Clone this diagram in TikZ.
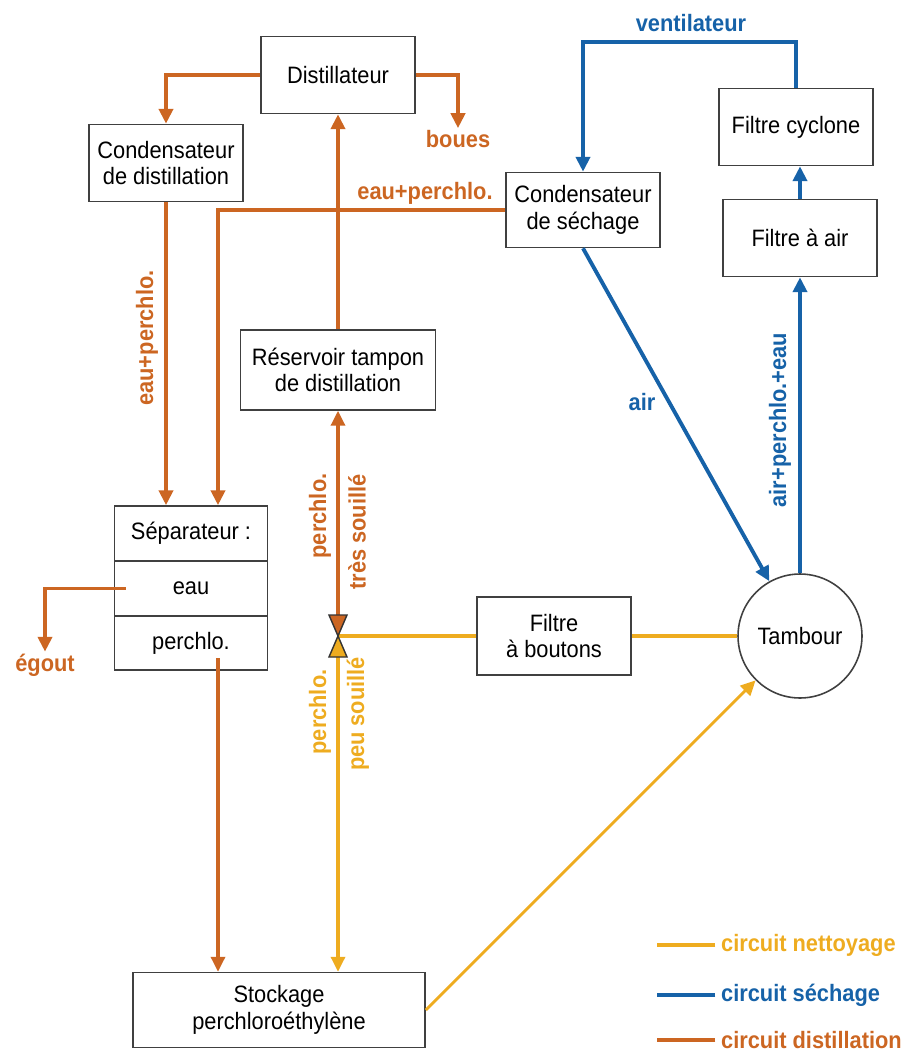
\documentclass[tikz,border=0pt]{standalone}
\usepackage{fontspec}
\setmainfont{Liberation Sans}[FakeStretch=0.92]
\usetikzlibrary{arrows.meta}
\definecolor{distil}{RGB}{204,102,34}
\definecolor{nettoy}{RGB}{238,172,32}
\definecolor{sechage}{RGB}{22,98,168}
\begin{document}
\begin{tikzpicture}[x=0.02cm,y=-0.02cm,
    >={Triangle[length=8.5pt,width=8pt]},
    font=\fontsize{13.5}{15}\selectfont,
    box/.style={draw=black!75,line width=0.9pt,align=center,fill=white,
        minimum width=3.08cm,minimum height=1.54cm,inner sep=1pt},
    dst/.style={draw=distil,line width=2.2pt},
    sch/.style={draw=sechage,line width=2.2pt},
    ntt/.style={draw=nettoy,line width=1.8pt},
    lab/.style={font=\fontsize{13.5}{15}\selectfont\bfseries,inner sep=1pt}]
    \useasboundingbox (0,0) rectangle (912,1051);
    % boxes
    \node[box] (dist) at (338,75) {Distillateur};
    \node[box] (cdist) at (166,163) {Condensateur\\de distillation};
    \node[box,minimum height=1.5cm] (csech) at (583,210) {Condensateur\\de séchage};
    \node[box] (fcyc) at (796,127) {Filtre cyclone};
    \node[box] (fair) at (800,238) {Filtre à air};
    \node[box,minimum width=3.9cm,minimum height=1.6cm] (res) at (338,370) {Réservoir tampon\\de distillation};
    \node[box,minimum width=3.06cm,minimum height=1.1cm] (sept) at (191,533.5) {Séparateur :};
    \node[box,minimum width=3.06cm,minimum height=1.1cm] (sepe) at (191,588.5) {eau};
    \node[box,minimum width=3.06cm,minimum height=1.08cm] (sepp) at (191,643) {perchlo.};
    \node[box,minimum height=1.56cm] (filt) at (554,636) {Filtre\\à boutons};
    \node[box,minimum width=5.84cm,minimum height=1.5cm] (stock) at (279,1010) {Stockage\\perchloroéthylène};
    \node[draw=black!75,line width=0.9pt,circle,minimum size=2.48cm,inner sep=0pt] (tamb) at (800,636) {Tambour};
    % labels
    \node[lab,text=distil] (boues) at (458,139) {boues};
    \node[lab,text=distil] (egout) at (45,665) {égout};
    \node[lab,text=distil] (ep1) at (425,193) {eau+perchlo.};
    \node[lab,text=distil,rotate=90] (ep2) at (147,338) {eau+perchlo.};
    \node[lab,text=distil,rotate=90] (pts) at (320,516) {perchlo.};
    \node[lab,text=distil,rotate=90] (ts) at (357,532) {très souillé};
    \node[lab,text=nettoy,rotate=90] (pps) at (320,712) {perchlo.};
    \node[lab,text=nettoy,rotate=90] (ps) at (358,714) {peu souillé};
    \node[lab,text=sechage] (vent) at (691,23) {ventilateur};
    \node[lab,text=sechage] (lair) at (642,402) {air};
    \node[lab,text=sechage,rotate=90] (ape) at (780,420) {air+perchlo.+eau};
    \coordinate (v) at (338,636);
    \coordinate (vt) at (338,615);
    \coordinate (vb) at (338,657);
    \coordinate (pout) at (218,658);
    % distillation
    \draw [dst,->] (dist.west) -| (cdist.north);
    \draw [dst,->] (dist.east) -| (boues.north);
    \draw [dst,->] (cdist.south) -- (cdist.south |- sept.north);
    \draw [dst,->] (csech.west) -| ([xshift=0.54cm]sept.north);
    \draw [dst,->] (res.north) -- (dist.south);
    \draw [dst,->,line width=1.8pt] (vt) -- (res.south);
    \draw [dst,->] ([xshift=0.24cm]sepe.west) -| (egout.north);
    \draw [dst,->,line width=1.8pt] (pout) -- (pout |- stock.north);
    % sechage
    \draw [sch,->] (fcyc.north) -- ++(0,-46) -| (csech.north);
    \draw [sch,->] (fair.north) -- (fair.north |- fcyc.south);
    \draw [sch,->] (tamb.north) -- (tamb.north |- fair.south);
    \draw [sch,->] (csech.south) -- (tamb);
    % nettoyage
    \draw [ntt,line width=2.8pt] (v) -- (filt.west);
    \draw [ntt,line width=2.8pt] (filt.east) -- (tamb.west);
    \draw [ntt,->] (vb) -- (vb |- stock.north);
    \draw [ntt,->,line width=1.6pt] (stock.east) -- (tamb);
    % vanne
    \draw [black!80,fill=distil,line width=0.8pt] (329,615) -- (347,615) -- (v) -- cycle;
    \draw [black!80,fill=nettoy,line width=0.8pt] (v) -- (329,657) -- (347,657) -- cycle;
    % legende
    \node[lab,text=nettoy,anchor=west] (lg1) at (719,945) {circuit nettoyage};
    \node[lab,text=sechage,anchor=west] (lg2) at (719,995) {circuit séchage};
    \node[lab,text=distil,anchor=west] (lg3) at (719,1040) {circuit distillation};
    \draw [ntt,line width=2.6pt] ([xshift=-2pt]lg1.west) -- ++(-58,0);
    \draw [sch,line width=2.6pt] ([xshift=-2pt]lg2.west) -- ++(-58,0);
    \draw [dst,line width=2.6pt] ([xshift=-2pt]lg3.west) -- ++(-58,0);
\end{tikzpicture}
\end{document}
